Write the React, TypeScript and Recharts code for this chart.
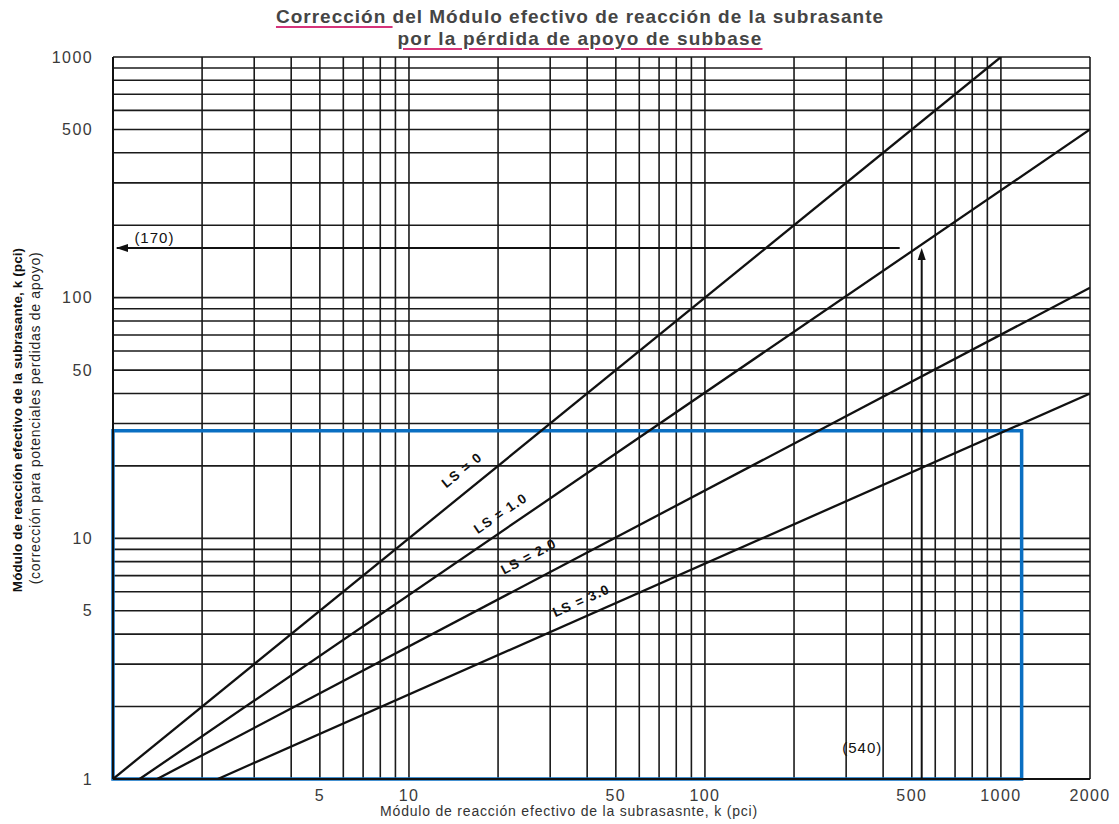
import React from 'react';
import {
  LineChart,
  Line,
  XAxis,
  YAxis,
  CartesianGrid,
  ReferenceArea,
  ReferenceLine,
  ReferenceDot,
} from 'recharts';

// grid lines of the log-log paper
const xGrid = [1, 2, 3, 4, 5, 6, 7, 8, 9, 10, 20, 30, 40, 50, 60, 70, 80, 90, 100, 200, 300, 400, 500, 600, 700, 800, 900, 1000, 2000];
const yGrid = [1, 2, 3, 4, 5, 6, 7, 8, 9, 10, 20, 30, 40, 50, 60, 70, 80, 90, 100, 200, 300, 400, 500, 600, 700, 800, 900, 1000];
const xLabels = [5, 10, 50, 100, 500, 1000, 2000];
const yLabels = [1, 5, 10, 50, 100, 500, 1000];

// LS curves, start and end
const ls0 = [{ x: 1, y: 1 }, { x: 1000, y: 1000 }];
const ls1 = [{ x: 1.23, y: 1 }, { x: 2000, y: 500 }];
const ls2 = [{ x: 1.41, y: 1 }, { x: 2000, y: 110 }];
const ls3 = [{ x: 2.26, y: 1 }, { x: 2000, y: 40 }];

const lsLabels = ['LS = 0', 'LS = 1.0', 'LS = 2.0', 'LS = 3.0'];
const lsLabelX = [15.1, 20.4, 25.4, 38.2];
const lsLabelY = [19.2, 12.7, 8.4, 5.5];
const lsAngles = [-39, -34, -28, -24];

// worked example: k = 540 -> 170 (LS = 1.0)
const exampleK = 540;
const exampleKCorr = 161;
const exampleLineEndX = 455;

const tickFont = { fontFamily: 'Liberation Sans, Arial, sans-serif', fontSize: 16, fill: '#3a3a3a', letterSpacing: 1.4 };

const underline: React.CSSProperties = {
  textDecorationLine: 'underline',
  textDecorationColor: '#d6337a',
  textDecorationThickness: '2px',
  textUnderlineOffset: '3px',
};

const textShape = (label: string, angle: number, size: number, bold: boolean, spacing: number) => (p: any) => (
  <text
    x={p.cx}
    y={p.cy}
    transform={`rotate(${angle} ${p.cx} ${p.cy})`}
    textAnchor="middle"
    dominantBaseline="central"
    fontFamily="Liberation Sans, Arial, sans-serif"
    fontSize={size}
    fontWeight={bold ? 'bold' : 'normal'}
    letterSpacing={spacing}
    fill="#111"
  >
    {label}
  </text>
);

const App: React.FC = () => {
  return (
    <div style={{ position: 'absolute', left: 0, top: 0, width: 1119, height: 824, background: '#fff' }}>
      <div
        style={{
          position: 'absolute',
          left: 0,
          top: 6,
          width: 1160,
          textAlign: 'center',
          fontFamily: 'Liberation Sans, Arial, sans-serif',
          fontWeight: 'bold',
          fontSize: 19,
          letterSpacing: 1,
          lineHeight: '22px',
          color: '#454545',
        }}
      >
        <div>
          <span style={underline}>Corrección </span>
          del Módulo efectivo de reacción de la subrasante
        </div>
        <div>
          <span style={{ ...underline, letterSpacing: 1.2 }}>por la pérdida de apoyo de subbase</span>
        </div>
      </div>

      <div
        style={{
          position: 'absolute',
          left: 18 - 200,
          top: 420 - 8,
          width: 400,
          height: 16,
          lineHeight: '16px',
          textAlign: 'center',
          transform: 'rotate(-90deg)',
          fontFamily: 'Liberation Sans Narrow, Liberation Sans, Arial, sans-serif',
          fontWeight: 'bold',
          fontSize: 13.5,
          letterSpacing: 0.1,
          color: '#111',
        }}
      >
        Módulo de reacción efectivo de la subrasante, k (pci)
      </div>
      <div
        style={{
          position: 'absolute',
          left: 35 - 200,
          top: 418 - 8,
          width: 400,
          height: 16,
          lineHeight: '16px',
          textAlign: 'center',
          transform: 'rotate(-90deg)',
          fontFamily: 'Liberation Sans Narrow, Liberation Sans, Arial, sans-serif',
          fontSize: 14,
          letterSpacing: 0.7,
          color: '#222',
        }}
      >
        (corrección para potenciales perdidas de apoyo)
      </div>

      <div
        style={{
          position: 'absolute',
          left: 0,
          top: 803,
          width: 1138,
          textAlign: 'center',
          fontFamily: 'Liberation Sans, Arial, sans-serif',
          fontSize: 14,
          letterSpacing: 0.8,
          color: '#333',
        }}
      >
        Módulo de reacción efectivo de la subrasasnte, k (pci)
      </div>

      <LineChart width={1119} height={824} margin={{ top: 57, right: 29, bottom: 0, left: 0 }}>
        <CartesianGrid stroke="#1a1a1a" strokeWidth={1.6} />
        <XAxis
          dataKey="x"
          type="number"
          scale="log"
          domain={[1, 2000]}
          allowDataOverflow
          ticks={xGrid}
          interval={0}
          tickFormatter={(v: number) => (xLabels.includes(v) ? String(v) : '')}
          tickLine={false}
          tickSize={6}
          tickMargin={5}
          axisLine={{ stroke: '#111', strokeWidth: 2 }}
          tick={tickFont}
          height={45}
        />
        <YAxis
          dataKey="y"
          type="number"
          scale="log"
          domain={[1, 1000]}
          allowDataOverflow
          ticks={yGrid}
          interval={0}
          tickFormatter={(v: number) => (yLabels.includes(v) ? String(v) : '')}
          tickLine={false}
          tickSize={8}
          tickMargin={12}
          axisLine={{ stroke: '#111', strokeWidth: 2 }}
          tick={tickFont}
          width={113}
        />
        <Line data={ls0} dataKey="y" stroke="#111" strokeWidth={2.3} dot={false} isAnimationActive={false} />
        <Line data={ls1} dataKey="y" stroke="#111" strokeWidth={2.3} dot={false} isAnimationActive={false} />
        <Line data={ls2} dataKey="y" stroke="#111" strokeWidth={2.3} dot={false} isAnimationActive={false} />
        <Line data={ls3} dataKey="y" stroke="#111" strokeWidth={2.3} dot={false} isAnimationActive={false} />

        <ReferenceLine
          segment={[{ x: 1.03, y: exampleKCorr }, { x: exampleLineEndX, y: exampleKCorr }]}
          stroke="#111"
          strokeWidth={2}
        />
        <ReferenceDot
          x={1}
          y={exampleKCorr}
          r={1}
          shape={(p: any) => (
            <path d={`M${p.cx + 3},${p.cy} l12,-4 l0,8 z`} fill="#111" />
          )}
        />
        <ReferenceLine
          segment={[{ x: exampleK, y: 1 }, { x: exampleK, y: exampleKCorr * 0.93 }]}
          stroke="#111"
          strokeWidth={2}
        />
        <ReferenceDot
          x={exampleK}
          y={exampleKCorr}
          r={1}
          shape={(p: any) => (
            <path d={`M${p.cx},${p.cy} l-4,12 l8,0 z`} fill="#111" />
          )}
        />
        <ReferenceDot x={1.38} y={177} r={1} shape={textShape('(170)', 0, 15, false, 1)} />
        <ReferenceDot x={340} y={1.35} r={1} shape={textShape('(540)', 0, 15, false, 1)} />

        {lsLabels.map((l, i) => (
          <ReferenceDot
            key={l}
            x={lsLabelX[i]}
            y={lsLabelY[i]}
            r={1}
            shape={textShape(l, lsAngles[i], 13.5, true, 1.2)}
          />
        ))}

        <ReferenceArea
          x1={1}
          x2={1175}
          y1={1}
          y2={28}
          fill="none"
          fillOpacity={0}
          stroke="#0a6fc2"
          strokeWidth={3.5}
        />
      </LineChart>
    </div>
  );
};

export default App;
